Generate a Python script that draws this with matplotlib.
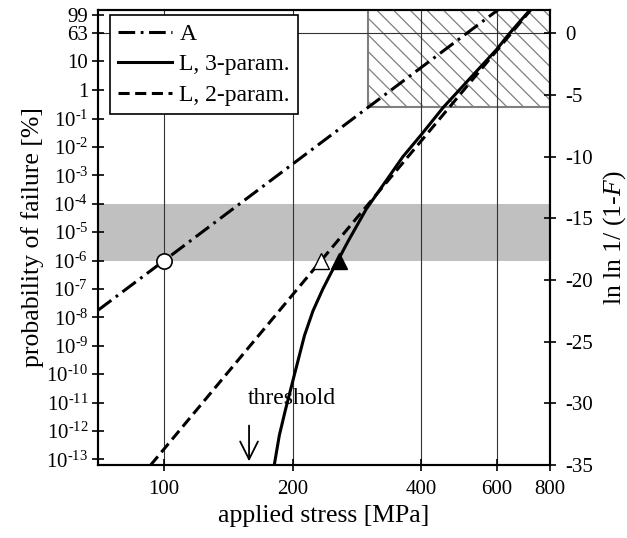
import numpy as np
import matplotlib.pyplot as plt
from matplotlib.patches import Rectangle

plt.rcParams['font.family'] = ['Liberation Serif', 'DejaVu Serif']
plt.rcParams['mathtext.fontset'] = 'custom'
plt.rcParams['mathtext.rm'] = 'Liberation Serif'
plt.rcParams['mathtext.it'] = 'Liberation Serif:italic'
plt.rcParams['axes.unicode_minus'] = False
plt.rcParams['hatch.linewidth'] = 0.9
plt.rcParams['lines.scale_dashes'] = False

# values (y in ln ln 1/(1-F))
stress_a = [70, 100, 300, 620]
lnln_a = [-22.45, -18.42, -6.0, 2.2]

stress_l3 = [181, 186, 192, 201, 213, 223, 235, 246, 257, 269, 297, 362, 400, 450, 600, 643, 720]
lnln_l3 = [-35.0, -32.6, -30.6, -27.9, -24.5, -22.5, -20.75, -19.4, -18.2, -16.9, -14.26,
           -10.0, -8.2, -6.0, -1.3, 0.0, 1.95]

stress_l2 = [93, 233, 725]
lnln_l2 = [-35.0, -18.42, 2.0]

circle_pt = (100, -18.42)
open_tri = (233, -18.42)
filled_tri = (257, -18.42)

band_pct = [1e-6, 1e-4]          # grey band, percent
hatch_stress = [300, 800]
hatch_lnln_low = -6.0
threshold_stress = 158

stress_ticks = [100, 200, 400, 600, 800]
prob_ticks = [99, 63, 10, 1] + [10.0 ** -k for k in range(1, 14)]
prob_labels = ['99', '63', '10', '1'] + ['$10^{\u2010%d}$' % k for k in range(1, 14)]
right_ticks = [-35, -30, -25, -20, -15, -10, -5, 0]


def lnln(p):
    p = np.asarray(p, dtype=float) / 100.0
    return np.log(-np.log1p(-p))


fig = plt.figure(figsize=(6.27, 5.38), dpi=100)
ax = fig.add_axes([98 / 627, 1 - 465 / 538, 452 / 627, 455 / 538])

ax.set_xscale('log')
ax.set_xlim(70, 800)
ax.set_ylim(-35, 1.9)

b = lnln(band_pct)
ax.axhspan(b[0], b[1], color='#c0c0c0', lw=0, zorder=0)
ax.add_patch(Rectangle((hatch_stress[0], hatch_lnln_low), hatch_stress[1] - hatch_stress[0], 10,
                       facecolor='none', edgecolor='#7f7f7f', hatch='\\\\', lw=1.5, zorder=0.5))

for s in stress_ticks[:-1]:
    ax.axvline(s, color='#333333', lw=0.8, zorder=1)
ax.axhline(0, color='#333333', lw=0.8, zorder=1)

ax.plot(stress_a, lnln_a, color='k', lw=2.2, dashes=(12, 4, 2, 4), label='A', zorder=3)
ax.plot(stress_l3, lnln_l3, color='k', lw=2.2, label='L, 3-param.', zorder=3)
ax.plot(stress_l2, lnln_l2, color='k', lw=2.2, dashes=(8, 4), label='L, 2-param.', zorder=3)

ax.plot(*circle_pt, 'o', ms=11, mfc='white', mec='k', mew=1.2, zorder=4)
ax.plot(*open_tri, '^', ms=11, mfc='white', mec='k', mew=1.0, zorder=4)
ax.plot(*filled_tri, '^', ms=11, mfc='k', mec='k', mew=1.0, zorder=4)

ax.annotate('', xy=(threshold_stress, -34.7), xytext=(threshold_stress, -31.8),
            arrowprops=dict(arrowstyle='->', color='k', lw=1.3, mutation_scale=32,
                            shrinkA=0, shrinkB=0))
ax.text(199, -29.6, 'threshold', fontsize=17, ha='center', va='center')

ax.set_xticks(stress_ticks)
ax.set_xticklabels([str(s) for s in stress_ticks])
ax.xaxis.set_minor_locator(plt.NullLocator())
ax.set_yticks(lnln(prob_ticks))
ax.set_yticklabels(prob_labels)
ax.tick_params(direction='inout', length=8, width=1.2, labelsize=15)
ax.tick_params(axis='x', pad=7)
ax.tick_params(axis='y', pad=3)

for sp in ax.spines.values():
    sp.set_linewidth(1.5)

ax.set_xlabel('applied stress [MPa]', fontsize=18.5, labelpad=4)
ax.set_ylabel('probability of failure [%]', fontsize=18.5, labelpad=2)

ax2 = ax.twinx()
ax2.set_ylim(ax.get_ylim())
ax2.set_yticks(right_ticks)
ax2.set_yticklabels([str(t) for t in right_ticks])
ax2.tick_params(direction='inout', length=8, width=1.2, labelsize=15, pad=7)
for sp in ax2.spines.values():
    sp.set_linewidth(1.5)
ax2.set_ylabel('ln ln 1/ (1-$\\it{F}$)', fontsize=18.5, labelpad=6)

leg = ax.legend(loc='upper left', bbox_to_anchor=(0.026, 0.989), borderaxespad=0,
                fontsize=17, handlelength=2.3, handletextpad=0.3, labelspacing=0.38,
                borderpad=0.35, fancybox=False, framealpha=1, edgecolor='k')
leg.get_frame().set_linewidth(1.2)
leg.set_zorder(5)

fig.savefig('out.png', dpi=100)
